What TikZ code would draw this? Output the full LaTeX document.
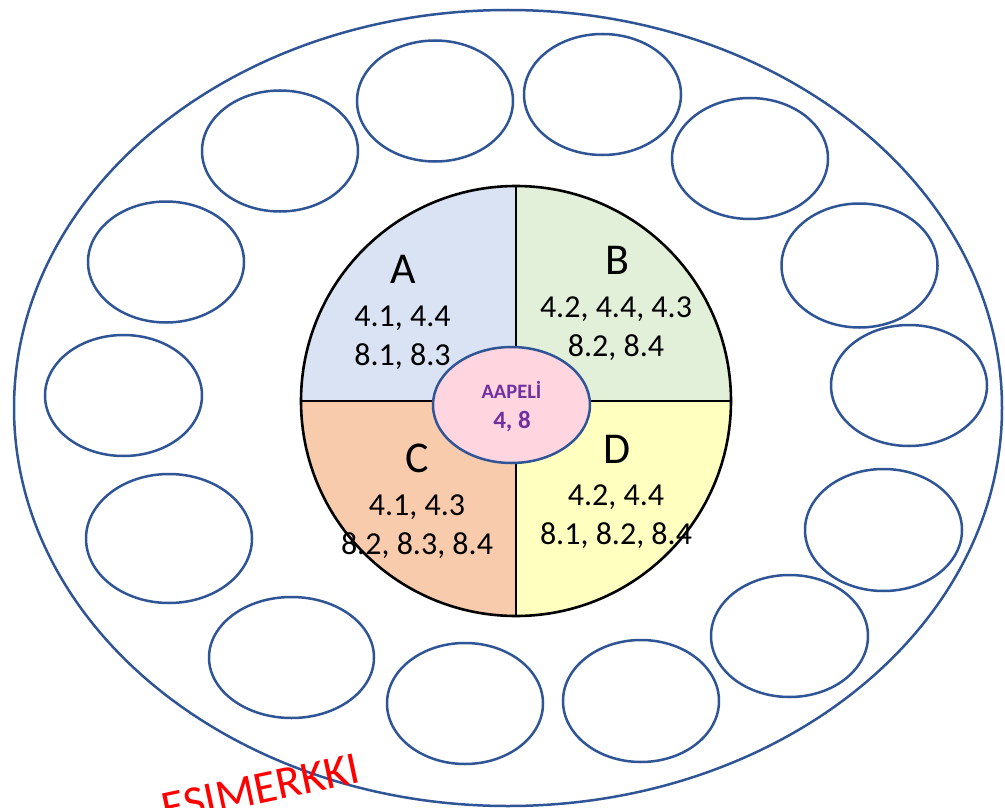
\documentclass[tikz,border=0pt]{standalone}
\usepackage{fontspec}
\setmainfont{Carlito}
\usetikzlibrary{shapes.geometric}
\definecolor{ringblue}{HTML}{2F5597}
\definecolor{qA}{HTML}{DAE3F3}
\definecolor{qB}{HTML}{E2F0D9}
\definecolor{qC}{HTML}{F8CBAD}
\definecolor{qD}{HTML}{FFFFC0}
\definecolor{hubpink}{HTML}{FFD6E0}
\definecolor{hubtext}{HTML}{7030A0}
\begin{document}
\begin{tikzpicture}[x=1pt,y=-1pt,
  seat/.style={ellipse, draw=ringblue, line width=2.5pt, inner sep=0pt},
  letter/.style={anchor=base, inner sep=0pt, font=\fontsize{44}{50}\selectfont},
  nums/.style={anchor=base, inner sep=0pt, font=\fontsize{32}{39}\selectfont},
  hubtxt/.style={anchor=base, inner sep=0pt, text=hubtext}]
\useasboundingbox (0,0) rectangle (1005,808);
\fill[white] (0,0) rectangle (1005,808);
% outer ring
\node[seat, minimum width=988pt, minimum height=796pt] (outer) at (508,408) {};
% seats
\node[seat, minimum width=156pt, minimum height=121pt] (s1) at (280,151) {};
\node[seat, minimum width=156pt, minimum height=121pt] (s2) at (435,101) {};
\node[seat, minimum width=156pt, minimum height=121pt] (s3) at (166,262) {};
\node[seat, minimum width=157pt, minimum height=121pt] (s4) at (123.5,395.5) {};
\node[seat, minimum width=157pt, minimum height=121pt] (s5) at (602.5,94.5) {};
\node[seat, minimum width=156pt, minimum height=121pt] (s6) at (750,158.5) {};
\node[seat, minimum width=156pt, minimum height=124pt] (s7) at (859.5,265.5) {};
\node[seat, minimum width=156pt, minimum height=121pt] (s8) at (909,385.5) {};
\node[seat, minimum width=157pt, minimum height=122pt] (s9) at (883.5,530) {};
\node[seat, minimum width=157pt, minimum height=122pt] (s10) at (789.5,636) {};
\node[seat, minimum width=156pt, minimum height=122pt] (s11) at (641,701) {};
\node[seat, minimum width=156pt, minimum height=121pt] (s12) at (465,703.5) {};
\node[seat, minimum width=165pt, minimum height=121pt] (s13) at (291.5,657.5) {};
\node[seat, minimum width=166pt, minimum height=129pt] (s14) at (169,538.5) {};
% inner circle quadrants
\coordinate (O) at (516,401);
\begin{scope}
  \clip (O) circle[radius=215pt];
  \fill[qA] (O) rectangle ++(-220,-220);
  \fill[qB] (O) rectangle ++(220,-220);
  \fill[qC] (O) rectangle ++(-220,220);
  \fill[qD] (O) rectangle ++(220,220);
\end{scope}
\draw[line width=2.6pt] (516,186) -- (516,616);
\draw[line width=2.6pt] (301,401) -- (731,401);
\draw[line width=2.6pt] (O) circle[radius=215pt];
% quadrant texts
\node[letter] (la) at (403,283) {A};
\node[nums] (a1) at (402.5,326) {4.1, 4.4};
\node[nums] (a2) at (402.5,365) {8.1, 8.3};
\node[letter] (lb) at (617,274) {B};
\node[nums] (b1) at (616,317) {4.2, 4.4, 4.3};
\node[nums] (b2) at (616,356) {8.2, 8.4};
\node[letter] (lc) at (417,472) {C};
\node[nums] (c1) at (417,515) {4.1, 4.3};
\node[nums] (c2) at (417,554) {8.2, 8.3, 8.4};
\node[letter] (ld) at (617,463) {D};
\node[nums] (d1) at (616,505) {4.2, 4.4};
\node[nums] (d2) at (616,544) {8.1, 8.2, 8.4};
% hub
\node[seat, fill=hubpink, minimum width=157pt, minimum height=116pt] (hub) at (511.5,405) {};
\node[hubtxt, font=\fontsize{20.5}{23}\selectfont\bfseries] (hubname) at (511.5,398) {AAPELİ};
\node[hubtxt, font=\fontsize{25}{28}\selectfont\bfseries] (hubnums) at (512,428) {4, 8};
% stamp
\node[rotate=12, anchor=base, inner sep=0pt, text=red, font=\fontsize{46}{50}\selectfont] (stamp) at (264,803) {ESIMERKKI};
\end{tikzpicture}
\end{document}
